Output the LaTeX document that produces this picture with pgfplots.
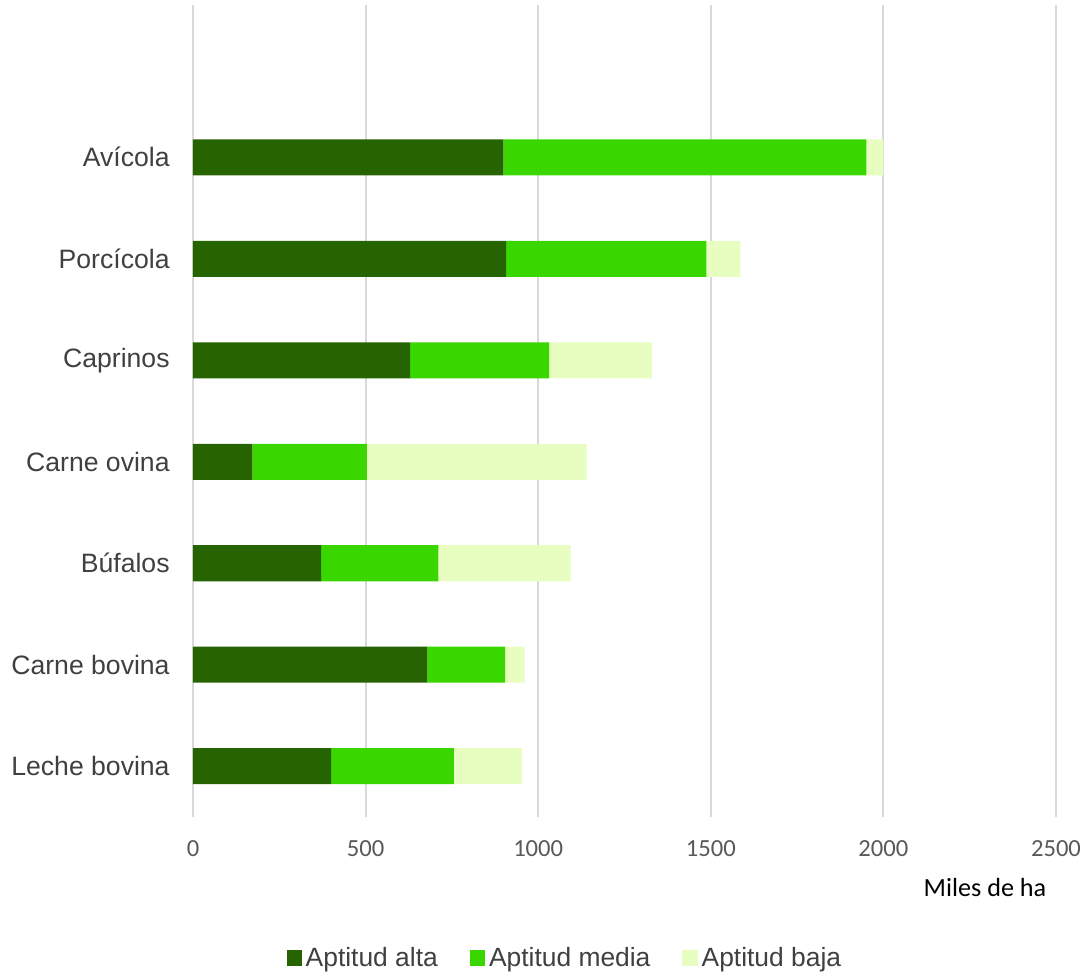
\documentclass[border=0pt]{standalone}
\usepackage{fontspec}
\setmainfont{Liberation Sans}
\newfontfamily\calibri{Carlito}
\usepackage{pgfplots}
\pgfplotsset{compat=1.18}

\definecolor{alta}{HTML}{256400}
\definecolor{media}{HTML}{3AD600}
\definecolor{baja}{HTML}{E8FDC0}
\definecolor{gridgray}{HTML}{D9D9D9}
\definecolor{txt}{HTML}{404040}
\definecolor{ticktxt}{HTML}{595959}

\begin{document}
\begin{tikzpicture}
\begin{axis}[
    at={(0pt,0pt)}, anchor=south west,
    scale only axis,
    width=431.5pt, height=406pt,
    clip=false,
    xbar stacked,
    bar width=18pt,
    xmin=0, xmax=2500,
    ymin=-0.5, ymax=7.5,
    xtick={0,500,...,2500},
    ytick={0,...,6},
    yticklabels={Leche bovina, Carne bovina, Búfalos, Carne ovina, Caprinos, Porcícola, Avícola},
    xmajorgrids,
    grid style={gridgray, line width=1pt},
    axis line style={draw=none},
    major tick length=0pt,
    /pgf/number format/assume math mode=true,
    /pgf/number format/1000 sep={},
    xticklabel style={font=\calibri\fontsize{12.3}{14}\selectfont, text=ticktxt, anchor=center, yshift=-16pt},
    yticklabel style={font=\fontsize{13.3}{15}\selectfont, text=txt, anchor=east, inner sep=0pt, xshift=-11.5pt},
    legend columns=3,
    legend style={at={(axis description cs:0.432,-0.1737)}, anchor=center, draw=none,
        font=\fontsize{13.2}{15}\selectfont, text=txt,
        /tikz/every even column/.append style={column sep=14pt}},
    legend image code/.code={\fill[#1] (0pt,-3.8pt) rectangle (7.6pt,3.8pt);},
]
\addplot[fill=alta, draw=none] coordinates {(400,0) (679,1) (371,2) (172,3) (629,4) (907,5) (899,6)};
\addplot[fill=media, draw=none] coordinates {(356,0) (225,1) (340,2) (332,3) (403,4) (580,5) (1052,6)};
\addplot[fill=baja, draw=none] coordinates {(197,0) (57,1) (383,2) (636,3) (297,4) (99,5) (49,6)};
\legend{Aptitud alta, Aptitud media, Aptitud baja}
\node[font=\calibri\fontsize{13.1}{15}\selectfont, text=black, anchor=center]
    at (axis description cs:0.9177,-0.0874) {Miles de ha};
\end{axis}
\pgfresetboundingbox
\useasboundingbox (-96.5pt,-78.5pt) rectangle (444.5pt,408.5pt);
\end{tikzpicture}
\end{document}
